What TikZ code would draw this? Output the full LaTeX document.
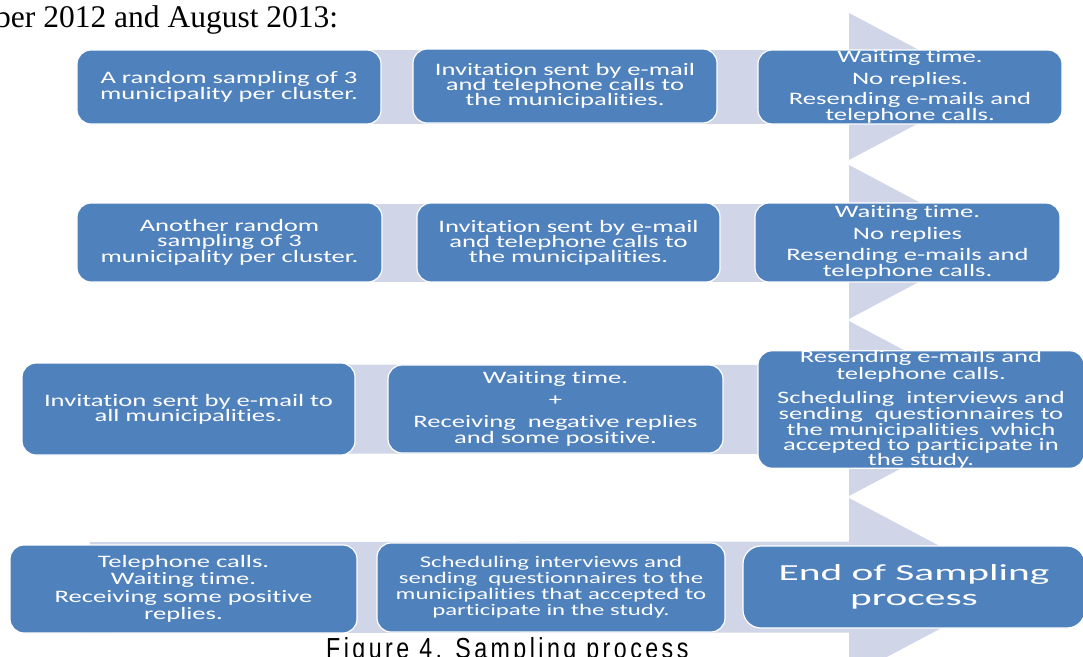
\documentclass[tikz,border=0pt]{standalone}
\usepackage{fontspec}
\setmainfont{Liberation Serif}
\newfontfamily\boxfont{Carlito}[FakeStretch=1.52,Ligatures={NoCommon,NoContextual}]
\newfontfamily\endfont{Carlito}[FakeStretch=1.8,Ligatures={NoCommon,NoContextual}]
\newfontfamily\capfont{Liberation Sans}[FakeStretch=0.8,LetterSpace=12]
\usetikzlibrary{backgrounds}
\definecolor{boxblue}{RGB}{79,129,189}
\definecolor{barblue}{RGB}{208,214,232}
\newcommand\fsz[2]{\fontsize{#1}{#2}\selectfont}
\begin{document}
\begin{tikzpicture}[x=1pt,y=-1pt,
  box/.style={draw=white, line width=1.2pt, fill=boxblue, rounded corners=14pt,
    text=white, align=center, inner sep=0pt, font=\boxfont\fsz{17.5}{15}},
  bar/.style={draw=barblue},
  tri/.style={fill=barblue, draw=none}]
\useasboundingbox (0,0) rectangle (1083,656);
\clip (0,0) rectangle (1083,656);

% top and caption text
\node[anchor=base west, inner sep=0pt, font=\fsz{31.5}{31.5}] (toptext) at (-5,27) {ber 2012 and August 2013:};
\node[anchor=base west, inner sep=0pt, font=\capfont\fsz{29}{29}] (caption) at (326,658) {Figure 4. Sampling process};

% row 1
\node[box, minimum width=304, minimum height=74] (r1a) at (229,87) {A random sampling of 3\\municipality per cluster.};
\node[box, minimum width=304, minimum height=74] (r1b) at (565,86) {Invitation sent by e-mail\\and telephone calls to\\the municipalities.};
\node[box, minimum width=304, minimum height=74] (r1c) at (910,87) {Waiting time.\\[5pt]No replies.\\[5pt]Resending e-mails and\\telephone calls.};

% row 2
\node[box, minimum width=305, minimum height=79] (r2a) at (229.5,242.5) {Another random\\sampling of 3\\municipality per cluster.};
\node[box, minimum width=303, minimum height=79] (r2b) at (568.5,242.5) {Invitation sent by e-mail\\and telephone calls to\\the municipalities.};
\node[box, minimum width=305, minimum height=79] (r2c) at (907.5,242.5) {Waiting time.\\[6pt]No replies\\[6pt]Resending e-mails and\\telephone calls.};

% row 3
\node[box, minimum width=333, minimum height=92] (r3a) at (188.5,409) {Invitation sent by e-mail to\\all municipalities.};
\node[box, minimum width=335, minimum height=88] (r3b) at (555.5,409) {Waiting time.\\[7pt]+\\[7pt]Receiving\ \ negative replies\\and some positive.};
\node[box, minimum width=326, minimum height=115] (r3c) at (921,409.5) {Resending e-mails and\\telephone calls.\\[9pt]Scheduling\ \ interviews and\\sending\ \ questionnaires\ to\\the municipalities\ \ which\\accepted to participate in\\the study.};

% row 4
\node[box, minimum width=347, minimum height=88, font=\boxfont\fsz{17.5}{17.5}] (r4a) at (183.5,589) {Telephone calls.\\Waiting time.\\Receiving some positive\\replies.};
\node[box, minimum width=348, minimum height=89, font=\boxfont\fsz{16.3}{16}] (r4b) at (551,587.5) {Scheduling interviews and\\sending\ \ questionnaires to the\\municipalities that accepted to\\participate in the study.};
\node[box, minimum width=342, minimum height=82, rounded corners=18pt, font=\endfont\fsz{23}{25}] (r4c) at (914,587) {End of Sampling\\process};

\coordinate (r4start) at (90,587.5);

\begin{scope}[on background layer]
  % chevrons
  \fill[tri] (849,13) -- (988,86.5) -- (849,160) -- cycle;
  \fill[tri] (849,165) -- (994,242) -- (849,319) -- cycle;
  \fill[tri] (849,321) -- (1014,408.5) -- (849,496) -- cycle;
  \fill[tri] (849,498) -- (1018,587.5) -- (849,677) -- cycle;
  % bars
  \draw[bar, line width=74pt] (r1a.center) -- (r1c.center);
  \draw[bar, line width=78pt] (r2a.center) -- (r2c.center);
  \draw[bar, line width=89pt] (r3a.center) -- (r3c.center);
  \draw[bar, line width=91pt] (r4start) -- (r4c.center);
\end{scope}
\end{tikzpicture}
\end{document}
